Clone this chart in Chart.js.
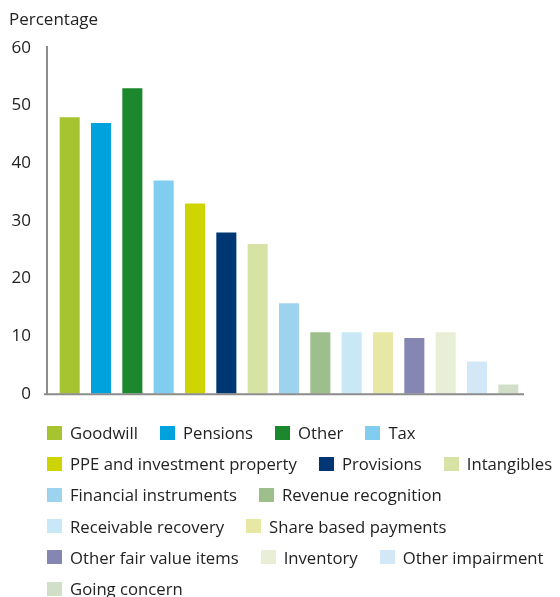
<!DOCTYPE html>
<html>
<head>
<meta charset="utf-8">
<script src="https://cdn.jsdelivr.net/npm/chart.js@4/dist/chart.umd.min.js"></script>
<style>
  html, body { margin: 0; padding: 0; background: #fff; }
  #wrap { position: relative; width: 560px; height: 597px; overflow: hidden; }
  #chart { position: absolute; left: 0; top: 0; }
  #legend {
    position: absolute; left: 47px; top: 417px; width: 516px;
    display: flex; flex-wrap: wrap; column-gap: 22px;
    font-family: "Open Sans", sans-serif; font-size: 16.7px; color: #222;
  }
  #legend .item { display: flex; align-items: center; height: 31.2px; white-space: nowrap; }
  #legend .box { width: 15px; height: 14px; margin-right: 8px; flex: none; }
</style>
</head>
<body>
<div id="wrap">
  <canvas id="chart" width="560" height="427"></canvas>
  <div id="legend"></div>
</div>
<script>
// Categories of audit focus areas
const categories = [
  'Goodwill', 'Pensions', 'Other', 'Tax', 'PPE and investment property',
  'Provisions', 'Intangibles', 'Financial instruments', 'Revenue recognition',
  'Receivable recovery', 'Share based payments', 'Other fair value items',
  'Inventory', 'Other impairment', 'Going concern'
];
// Percentage of reports mentioning each area
const percentages = [48, 47, 53, 37, 33, 28, 26, 15.7, 10.7, 10.7, 10.7, 9.7, 10.7, 5.6, 1.6];
// One colour per category
const colors = [
  '#a6c42f', '#00a2de', '#1b882d', '#80cdef', '#ced400',
  '#003674', '#d7e3a4', '#9dd3ef', '#9dbf8c', '#c8e7f7',
  '#e6e8a3', '#8586b2', '#e9efd6', '#d2e8f6', '#d2dfc8'
];
// Value axis ticks
const yTicks = [0, 10, 20, 30, 40, 50, 60];

const axisColor = '#8c8c8c';

// Draws the two axis lines slightly outside the plotting area
const axisLines = {
  id: 'axisLines',
  afterDraw(chart) {
    const { ctx, chartArea, scales } = chart;
    const y0 = scales.y.getPixelForValue(0);
    const yTop = scales.y.getPixelForValue(yTicks[yTicks.length - 1]);
    ctx.save();
    ctx.strokeStyle = axisColor;
    ctx.lineWidth = 2;
    ctx.beginPath();
    ctx.moveTo(chartArea.left - 7, yTop - 2);
    ctx.lineTo(chartArea.left - 7, y0);
    ctx.moveTo(chartArea.left - 10, y0 + 0.5);
    ctx.lineTo(chartArea.right, y0 + 0.5);
    ctx.stroke();
    ctx.restore();
  }
};

const chart = new Chart(document.getElementById('chart'), {
  type: 'bar',
  data: {
    labels: categories,
    datasets: [{
      data: percentages,
      backgroundColor: colors,
      borderWidth: 0,
      categoryPercentage: 1,
      barPercentage: 0.64
    }]
  },
  options: {
    responsive: false,
    animation: false,
    layout: { padding: { left: 9, right: 36, top: 0, bottom: 12 } },
    plugins: {
      legend: { display: false },
      tooltip: { enabled: false },
      title: {
        display: true,
        text: 'Percentage',
        align: 'start',
        color: '#222',
        font: { family: 'Open Sans', size: 17, weight: 'normal' },
        padding: { top: 10, bottom: 17.6 }
      }
    },
    scales: {
      x: {
        display: false
      },
      y: {
        min: 0,
        max: 60,
        afterBuildTicks(scale) { scale.ticks = yTicks.map(v => ({ value: v })); },
        afterFit(scale) { scale.width = 45; },
        grid: { display: false, drawTicks: false },
        border: { display: false },
        ticks: {
          padding: 23,
          color: '#222',
          font: { family: 'Open Sans', size: 17 }
        }
      }
    }
  },
  plugins: [axisLines]
});

// Legend built from the chart's own labels and colours
const legendEl = document.getElementById('legend');
chart.data.labels.forEach((label, i) => {
  const item = document.createElement('div');
  item.className = 'item';
  const box = document.createElement('span');
  box.className = 'box';
  box.style.background = chart.data.datasets[0].backgroundColor[i];
  const txt = document.createElement('span');
  txt.textContent = label;
  item.appendChild(box);
  item.appendChild(txt);
  legendEl.appendChild(item);
});
</script>
</body>
</html>
